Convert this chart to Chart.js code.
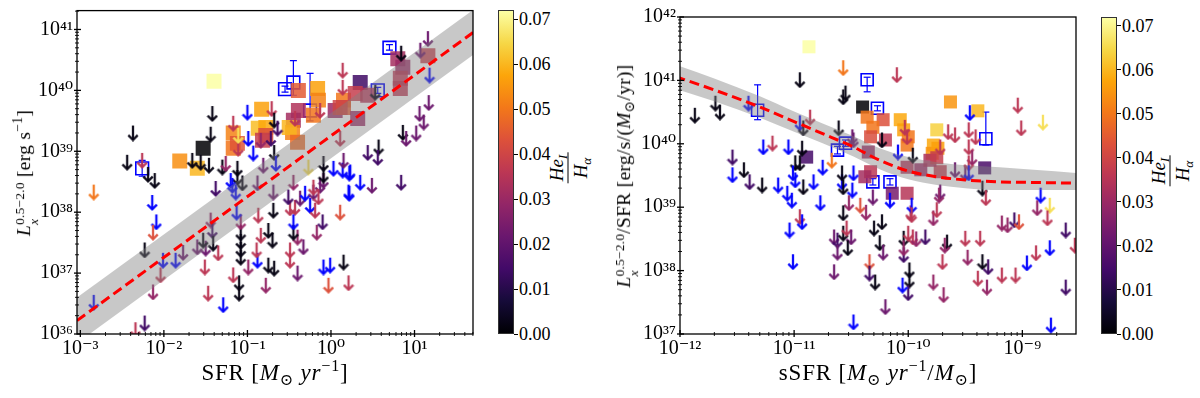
<!DOCTYPE html>
<html>
<head>
<meta charset="utf-8">
<title>Lx vs SFR and sSFR</title>
<script src="https://cdn.jsdelivr.net/npm/chart.js@4.4.1/dist/chart.umd.min.js"></script>
<style>
  html, body { margin: 0; padding: 0; background: #fff; }
  #fig { position: relative; width: 1200px; height: 398px; overflow: hidden; background: #fff; }
  #fig canvas { position: absolute; top: 0; }
  .t { position: absolute; font-family: "Liberation Serif", "DejaVu Serif", serif; color: #000;
       white-space: nowrap; line-height: 1; transform: translate(-50%, -50%); font-size: 22px; }
  .xt { font-size: 23px; letter-spacing: 0.8px; }
  .yt { font-size: 19.5px; letter-spacing: 0.3px; }
  .rot { transform: translate(-50%, -50%) rotate(-90deg); }
  .t sub, .t sup { font-size: 0.7em; line-height: 0; }
  .st { display: inline-flex; flex-direction: column; align-items: flex-start;
        font-size: 0.68em; line-height: 1.05; vertical-align: 0.42em; }
  .cbar { position: absolute; width: 16px; box-sizing: border-box; border: 1px solid #333; }
  .ctk { position: absolute; width: 4px; height: 1px; background: #000; }
  .clab { position: absolute; font-family: "Liberation Serif", "DejaVu Serif", serif; font-size: 18px;
          line-height: 1; transform: translateY(-50%); color: #000; }
  .fr { display: inline-flex; flex-direction: column; align-items: center; font-size: 19px; }
  .fr .nu { border-bottom: 1px solid #000; padding: 0 2px 2px; }
  .fr .de { padding-top: 2px; }
</style>
</head>
<body>
<div id="fig">
  <canvas id="left" width="490" height="398" style="left:0px"></canvas>
  <canvas id="right" width="490" height="398" style="left:600px"></canvas>

  <div class="t xt" style="left:275px;top:372px">SFR [<i>M</i><sub>⊙</sub> <i>yr</i><sup>−1</sup>]</div>
  <div class="t yt rot" style="left:27px;top:173px"><i>L</i><span class="st"><span>0.5−2.0</span><i>x</i></span> [erg s<sup>−1</sup>]</div>
  <div class="t xt" style="left:878px;top:372px">sSFR [<i>M</i><sub>⊙</sub> <i>yr</i><sup>−1</sup>/<i>M</i><sub>⊙</sub>]</div>
  <div class="t yt rot" style="left:627px;top:176px"><i>L</i><span class="st"><span>0.5−2.0</span><i>x</i></span>/SFR [erg/s/(<i>M</i><sub>⊙</sub>/yr)]</div>

  <div class="t rot" style="left:567px;top:168px"><span class="fr"><span class="nu"><i>He</i><sub><i>I</i></sub></span><span class="de"><i>H</i><sub><i>α</i></sub></span></span></div>
  <div class="t rot" style="left:1169px;top:171px"><span class="fr"><span class="nu"><i>He</i><sub><i>I</i></sub></span><span class="de"><i>H</i><sub><i>α</i></sub></span></span></div>
</div>
<script>
// values, in dex (log10) since both panels are log-log
// ratio = HeI/Halpha colour value, null = no measurement (drawn blue)

// ---- left panel: Lx vs SFR ----
const leftLimSFR = [-2.37,-2.44,-2.84,-2.14,-2.26,-2.19,-2.11,-1.66,-1.56,-1.46,-1.30,-1.42,-1.44,-1.38,-1.26,-1.00,-0.71,-0.68,-0.64,-1.17,
  -1.11,-1.11,-0.84,-0.72,-0.99,-0.93,-0.68,-0.81,-0.66,-1.12,-1.12,-1.18,-1.06,-0.88,-0.69,-0.43,-0.13,0.14,0.14,0.53,
  0.84,1.16,1.07,1.18,1.17,1.06,1.11,0.86,0.90,1.02,0.57,0.56,0.44,0.22,0.35,0.49,0.84,0.03,0.14,0.23,
  -2.09,-2.13,-2.23,-2.01,-1.86,-2.04,-1.77,-2.13,-2.84,-2.23,-2.34,-1.60,-1.50,-1.53,-1.44,-1.42,-1.41,-1.35,-1.51,-1.47,
  -1.29,-1.17,-1.08,-1.08,-1.08,-1.08,-1.10,-1.10,-0.99,-0.88,-0.89,-0.84,-0.87,-1.08,-1.13,-0.69,-0.75,-0.70,-0.75,-0.68,
  -0.78,-0.49,-0.43,-0.49,-0.49,-0.40,-0.33,-0.45,-0.45,-0.40,-0.17,-0.37,-0.51,-0.31,-0.25,-0.19,-0.10,0.11,0.22,-0.09,
  -0.01,0.15,-0.03,0.21,-0.45,-0.13,-0.21,-0.09,-0.09,0.15,-0.27,-0.21,-0.15,-0.09,0.11,-1.14,0.21,-1.20];
const leftLimLx = [39.30,38.82,38.33,38.16,38.85,38.62,38.52,38.85,38.82,38.77,38.74,39.62,39.28,38.39,38.80,39.64,39.70,39.51,39.38,39.46,
  39.05,39.26,39.18,39.21,39.21,38.97,38.98,38.77,38.80,38.72,38.57,38.44,38.48,38.48,38.33,39.54,39.67,40.33,40.05,39.97,
  40.61,40.85,40.66,40.25,39.80,39.62,39.48,39.31,39.21,39.30,39.07,38.90,38.98,38.64,38.49,38.44,38.49,38.72,38.69,38.66,
  37.84,37.67,37.38,37.21,37.21,36.97,37.34,36.69,36.52,36.18,36.07,37.43,37.41,37.54,37.87,37.70,37.49,37.33,37.10,36.67,
  36.48,36.97,37.66,37.52,37.39,37.26,36.84,36.67,37.10,37.21,37.38,37.62,37.95,37.84,38.00,38.03,37.70,37.54,37.13,37.08,
  36.80,38.07,38.08,37.38,37.21,37.59,37.43,37.67,37.84,37.00,37.67,38.23,38.25,38.31,38.11,38.03,37.84,38.00,38.31,37.10,
  37.13,37.18,36.80,36.84,38.49,38.44,38.33,38.52,38.80,38.85,38.74,38.41,38.25,38.61,39.21,38.33,38.33,38.52];
const leftLimRatio = [0.002,0.002,0.050,null,0.036,0.002,0.002,0.002,0.002,0.002,0.002,0.002,0.002,0.014,0.029,null,0.036,0.002,0.014,0.036,
  0.036,0.066,0.029,0.014,null,null,0.002,0.022,null,0.002,0.002,null,0.002,0.022,0.022,0.036,0.036,0.036,0.036,0.002,
  0.002,0.022,0.022,null,0.022,0.022,0.022,0.002,0.022,0.022,0.002,0.014,0.014,null,null,0.022,0.014,null,null,null,
  null,0.043,0.002,null,null,0.036,0.022,0.029,null,0.014,0.036,0.022,0.022,0.002,0.029,0.014,0.002,0.036,0.036,0.036,
  null,0.036,0.002,0.002,0.002,0.002,0.002,0.002,0.029,null,0.036,0.036,0.036,0.029,null,0.002,0.002,0.002,0.002,0.002,
  0.029,0.036,0.036,0.036,0.036,0.029,0.022,0.002,null,0.022,0.029,0.022,0.014,null,null,0.036,0.014,0.043,null,null,
  null,0.002,0.043,0.036,0.029,0.022,0.022,0.022,0.002,0.022,0.066,0.036,0.036,0.002,0.036,null,null,null];

const leftSqSFR = [-1.40,-1.81,-1.60,-1.53,-0.83,-1.17,-1.17,-1.12,-0.87,-0.78,-0.78,-0.82,-0.39,-0.16,-0.15,-0.21,-0.39,
  -0.45,-0.46,-0.50,-0.40,0.05,0.15,0.15,0.35,0.29,0.44,0.32,0.11,0.80,0.86,0.83,0.83,1.16];
const leftSqLx = [40.15,38.84,38.72,39.05,39.69,39.30,39.05,39.13,39.38,39.39,39.26,39.18,40.00,40.03,39.84,39.59,39.67,
  39.51,39.31,39.39,39.15,39.67,39.84,39.72,40.13,39.95,39.92,39.54,39.72,40.52,40.38,40.20,40.03,40.57];
const leftSqRatio = [0.072,0.054,0.060,0.000,0.057,0.052,0.050,0.044,0.061,0.058,0.043,0.038,0.045,0.057,0.052,0.050,0.034,
  0.032,0.052,0.060,0.048,0.030,0.050,0.045,0.014,0.038,0.035,0.030,0.040,0.032,0.030,0.036,0.036,0.038];

const leftOpenSFR = [-2.26,-0.55,-0.45,-0.25,0.56,0.70];
const leftOpenLx = [38.72,40.02,40.13,39.67,40.00,40.70];
const leftOpenLo = [38.59,39.97,39.92,39.50,39.95,40.66];
const leftOpenHi = [38.85,40.07,40.49,40.28,40.05,40.75];

const leftFitSFR = [-3.04, 1.70];
const leftFitLx = [36.22, 40.95];
const leftBandHi = [36.60, 41.32];
const leftBandLo = [35.85, 40.58];

// ---- right panel: Lx/SFR vs sSFR ----
const rightLimSSFR = [-11.87,-11.69,-11.65,-11.40,-11.54,-11.54,-11.44,-11.39,-11.28,-11.27,-11.19,-11.05,-10.95,-10.92,-10.86,-10.95,-10.93,-10.99,-10.95,-11.14,
  -11.06,-10.99,-10.92,-10.83,-10.75,-10.57,-10.57,-10.55,-10.61,-10.67,-10.58,-10.58,-10.57,-10.48,-10.49,-10.48,-10.10,-10.23,-10.09,-9.65,
  -9.59,-9.47,-9.47,-9.41,-9.44,-9.46,-9.96,-10.01,-10.03,-10.49,-10.77,-9.72,-9.59,-9.50,-9.72,-11.01,-11.02,-9.04,-9.01,-8.82,
  -9.47,-9.47,-9.35,-9.32,-8.84,-8.76,-8.87,-8.78,-8.62,-9.98,-9.78,-9.75,-9.50,-9.37,-9.18,-9.13,-9.07,-9.03,-9.66,-9.68,
  -9.85,-9.96,-10.04,-10.04,-10.04,-9.48,-9.35,-9.30,-9.70,-8.96,-8.88,-8.76,-9.18,-9.06,-9.39,-9.31,-9.78,-8.62,-9.69,-9.99,
  -9.99,-10.00,-10.05,-8.75,-8.54,-11.04,-10.95,-10.93,-11.01,-10.52,-10.31,-10.42,-10.37,-10.57,-10.65,-10.62,-10.62,-10.57,-10.54,-10.50,
  -10.53,-10.65,-10.30,-10.23,-10.25,-10.22,-10.34,-10.34,-10.29,-10.20,-10.48,-10.16,-9.97,-9.97,-10.00,-9.93,-9.73];
const rightLimL = [40.45,40.64,40.50,40.64,39.51,39.79,39.59,39.40,39.35,39.95,40.01,39.95,40.33,40.25,40.42,41.01,39.93,39.70,39.70,39.35,
  39.22,39.43,39.32,39.40,39.63,41.20,40.74,40.80,40.25,39.74,39.40,39.54,39.32,39.54,39.27,40.06,41.09,40.06,39.87,40.19,
  40.14,40.22,39.95,40.11,39.78,40.49,39.82,40.11,40.26,40.11,39.07,39.24,39.59,39.54,39.95,39.54,39.11,40.61,40.25,40.34,
  39.70,39.54,39.30,39.15,39.19,39.03,38.99,38.83,38.64,38.91,38.83,38.96,38.51,38.51,38.75,38.72,38.80,38.77,38.45,38.40,
  38.53,38.53,38.51,38.25,38.36,38.21,38.14,38.06,38.14,38.12,38.28,38.36,37.93,37.93,37.88,37.74,37.82,37.74,37.62,38.01,
  37.85,37.65,37.77,37.14,38.40,38.64,38.85,38.77,38.14,39.07,39.16,39.03,38.92,38.91,38.53,38.48,38.29,38.59,38.67,38.53,
  38.36,37.98,38.67,38.77,38.44,38.29,38.14,37.96,37.82,37.43,37.19,39.11,39.03,38.88,38.59,38.50,39.19];
const rightLimRatio = [0.002,0.002,0.002,null,null,0.014,0.002,0.014,0.002,null,0.036,null,null,0.002,0.036,0.002,0.002,0.002,0.002,null,
  null,null,0.002,null,null,0.050,0.002,0.002,0.002,0.050,null,0.002,0.002,null,null,0.022,0.036,0.002,null,0.036,
  0.036,0.036,0.036,0.036,0.029,null,0.002,0.036,0.036,0.022,null,0.022,0.022,0.022,0.036,null,null,0.036,0.036,0.066,
  0.036,null,0.002,0.036,null,0.066,0.029,0.036,0.014,0.036,0.029,0.036,0.036,0.036,0.029,0.029,0.014,0.043,0.002,0.029,
  0.014,0.036,0.002,0.014,0.029,0.029,0.002,0.014,0.036,null,0.036,null,0.036,0.036,0.036,0.029,0.029,0.014,0.029,0.002,
  0.002,0.014,null,null,0.036,null,0.036,null,null,0.029,0.022,0.043,0.029,0.002,0.022,0.014,0.022,0.002,0.036,0.022,
  0.002,0.022,0.002,0.002,0.002,0.022,0.043,0.014,0.002,0.022,null,null,null,0.036,0.036,0.029,0.029];

const rightSqSSFR = [-10.87,-10.40,-10.89,-10.36,-10.22,-10.31,-10.33,-10.20,-10.07,-10.04,-10.00,-10.01,-9.63,-9.39,-9.75,
  -9.78,-9.79,-9.74,-10.35,-10.33,-10.38,-10.14,-10.01,-10.01,-9.89,-9.72,-9.81,-9.75,-9.33];
const rightSqL = [41.53,40.58,39.79,40.42,40.38,40.26,40.11,40.06,40.38,40.22,40.11,39.98,40.66,40.52,40.22,
  39.98,39.85,39.93,39.87,39.56,39.48,39.22,39.22,39.63,39.59,39.56,39.74,39.78,39.62];
const rightSqRatio = [0.072,0.000,0.015,0.050,0.043,0.050,0.042,0.036,0.058,0.057,0.050,0.050,0.055,0.060,0.064,
  0.058,0.055,0.057,0.030,0.036,0.032,0.024,0.035,0.034,0.030,0.037,0.033,0.038,0.016];

const rightOpenSSFR = [-11.32,-10.36,-10.27,-10.62,-10.55,-10.31,-10.16,-9.32];
const rightOpenL = [40.53,41.01,40.56,39.90,40.01,39.40,39.40,40.08];
const rightOpenLo = [40.38,40.82,40.52,39.84,39.96,39.35,39.35,39.98];
const rightOpenHi = [40.93,41.05,40.60,39.96,40.06,39.45,39.45,40.50];

const rightFitSSFR = [-12.04,-11.7,-11.3,-11.0,-10.75,-10.48,-10.25,-10.0,-9.75,-9.5,-9.2,-8.9,-8.53];
const rightFitL = [41.06,40.85,40.58,40.35,40.16,39.95,39.74,39.57,39.48,39.43,39.40,39.39,39.38];
const rightBandHi = [41.25,41.03,40.75,40.51,40.32,40.12,39.93,39.79,39.71,39.66,39.63,39.59,39.54];
const rightBandLo = [40.87,40.67,40.41,40.19,40.01,39.80,39.60,39.44,39.35,39.30,39.27,39.27,39.27];

// colour bar
const RATIO_MAX = 0.072;
const cbarTicks = [0.00, 0.01, 0.02, 0.03, 0.04, 0.05, 0.06, 0.07];

const FONT = '"Liberation Serif", "DejaVu Serif", serif';
const INFERNO = ['#000004', '#160b39', '#420a68', '#6a176e', '#932667', '#bc3754',
                 '#dd513a', '#f37819', '#fca50a', '#f6d746', '#fcffa4'];
const INF_RGB = INFERNO.map(h => [1, 3, 5].map(k => parseInt(h.slice(k, k + 2), 16)));
const BAND = 'rgba(128,128,128,0.43)';

function colour(r, a) {
    if (r === null) return `rgba(0,0,255,${a})`;
    const t = Math.max(0, Math.min(1, r / RATIO_MAX)) * 10;
    const i = Math.min(9, Math.floor(t));
    const f = t - i;
    const c = INF_RGB[i].map((v, k) => Math.round(v + (INF_RGB[i + 1][k] - v) * f));
    return `rgba(${c[0]},${c[1]},${c[2]},${a})`;
}

// upper-limit marker: downward arrow drawn once per colour
const arrowCache = {};
function arrow(col) {
    if (arrowCache[col]) return arrowCache[col];
    const c = document.createElement('canvas');
    c.width = 12;
    c.height = 17;
    const g = c.getContext('2d');
    g.strokeStyle = col;
    g.lineWidth = 2.3;
    g.beginPath();
    g.moveTo(6, 1);
    g.lineTo(6, 15.3);
    g.stroke();
    g.beginPath();
    g.moveTo(1.3, 10.6);
    g.lineTo(6, 15.3);
    g.lineTo(10.7, 10.6);
    g.stroke();
    arrowCache[col] = c;
    return c;
}

function pts(xs, ys) {
    return xs.map((v, i) => ({ x: Math.pow(10, v), y: Math.pow(10, ys[i]) }));
}
function errPts(xs, lo, hi) {
    const out = [];
    xs.forEach((v, i) => {
        const x = Math.pow(10, v);
        out.push({ x, y: Math.pow(10, lo[i]) }, { x, y: Math.pow(10, hi[i]) }, { x, y: null });
    });
    return out;
}

const SUP = { '-': '⁻', '0': '⁰', '1': '¹', '2': '²', '3': '³', '4': '⁴', '5': '⁵', '6': '⁶', '7': '⁷', '8': '⁸', '9': '⁹' };
function powLabel(v) {
    const e = Math.log10(v);
    const r = Math.round(e);
    if (Math.abs(e - r) > 1e-6) return '';
    return '10' + String(r).split('').map(ch => SUP[ch]).join('');
}

// frame + in/out log ticks on the left and bottom spines
const frameTicks = {
    id: 'frameTicks',
    afterDatasetsDraw(chart) {
        const { ctx, chartArea: a, scales } = chart;
        ctx.save();
        ctx.strokeStyle = '#000';
        ctx.lineWidth = 1.3;
        ctx.strokeRect(a.left, a.top, a.right - a.left, a.bottom - a.top);
        const marks = (scale, horiz) => {
            const lo = Math.floor(Math.log10(scale.min)), hi = Math.ceil(Math.log10(scale.max));
            for (let e = lo; e <= hi; e++) {
                for (let k = 1; k < 10; k++) {
                    const v = k * Math.pow(10, e);
                    if (v < scale.min * 0.9999 || v > scale.max * 1.0001) continue;
                    const p = scale.getPixelForValue(v);
                    const out = k === 1 ? 3 : 2, inn = k === 1 ? 4 : 2;
                    ctx.lineWidth = k === 1 ? 1.3 : 0.9;
                    ctx.beginPath();
                    if (horiz) { ctx.moveTo(p, a.bottom + out); ctx.lineTo(p, a.bottom - inn); }
                    else { ctx.moveTo(a.left - out, p); ctx.lineTo(a.left + inn, p); }
                    ctx.stroke();
                }
            }
        };
        marks(scales.x, true);
        marks(scales.y, false);
        ctx.restore();
    }
};

function logAxis(min, max, horiz, size) {
    return {
        type: 'logarithmic',
        min, max,
        position: horiz ? 'bottom' : 'left',
        grid: { display: false, drawTicks: false },
        border: { display: false },
        ticks: {
            autoSkip: false, maxRotation: 0, minRotation: 0,
            padding: horiz ? 3 : 4,
            color: '#000',
            font: { family: FONT, size: 20 },
            callback: v => powLabel(v)
        },
        afterFit: s => {
            if (horiz) s.height = size; else s.width = size;
            s.paddingLeft = 0; s.paddingRight = 0; s.paddingTop = 0; s.paddingBottom = 0;
        }
    };
}

function panel(id, p) {
    const smooth = p.smooth ? { cubicInterpolationMode: 'monotone' } : { tension: 0 };
    const datasets = [
        { type: 'line', data: pts(p.fitX, p.fitY), borderColor: '#ff0000', borderWidth: 3, borderDash: [10, 5],
          pointRadius: 0, fill: false, order: 0, clip: 0, ...smooth },
        { type: 'line', data: pts(p.fitX, p.bandHi), borderWidth: 0, borderColor: 'rgba(0,0,0,0)',
          backgroundColor: BAND, pointRadius: 0, fill: '+1', order: 1, clip: 0, ...smooth },
        { type: 'line', data: pts(p.fitX, p.bandLo), borderWidth: 0, borderColor: 'rgba(0,0,0,0)',
          pointRadius: 0, fill: false, order: 1, clip: 0, ...smooth },
        { type: 'scatter', data: pts(p.limX, p.limY), pointStyle: p.limR.map(r => arrow(colour(r, 0.95))),
          pointRadius: 6, order: 2, clip: 0 },
        { type: 'scatter', data: pts(p.sqX, p.sqY), pointStyle: 'rect', pointRadius: p.sqSize,
          pointBackgroundColor: p.sqR.map(r => colour(r, 0.85)), pointBorderWidth: 0, order: 3, clip: 0 },
        { type: 'scatter', data: pts(p.openX, p.openY), pointStyle: 'rect', pointRadius: p.openSize,
          pointBackgroundColor: 'rgba(0,0,0,0)', pointBorderColor: '#0000ff', pointBorderWidth: 1.6, order: 4, clip: 0 },
        { type: 'line', data: errPts(p.openX, p.openLo, p.openHi), borderColor: '#0000ff', borderWidth: 1.2,
          pointStyle: 'line', pointRadius: 3.5, pointBorderColor: '#0000ff', pointBorderWidth: 1.2,
          spanGaps: false, fill: false, order: 5, clip: 0 }
    ];
    return new Chart(document.getElementById(id), {
        type: 'scatter',
        data: { datasets },
        options: {
            responsive: false,
            animation: false,
            devicePixelRatio: 1,
            layout: { padding: { left: 0, right: p.padRight, top: p.padTop, bottom: 0 } },
            plugins: { legend: { display: false }, tooltip: { enabled: false } },
            scales: {
                x: logAxis(p.xMin, p.xMax, true, 64),
                y: logAxis(p.yMin, p.yMax, false, p.axisW)
            }
        },
        plugins: [frameTicks]
    });
}

function colorbar(left, top, height) {
    const fig = document.getElementById('fig');
    const bar = document.createElement('div');
    bar.className = 'cbar';
    bar.style.left = left + 'px';
    bar.style.top = top + 'px';
    bar.style.height = height + 'px';
    bar.style.background = 'linear-gradient(to top,' + INFERNO.map((c, i) => c + ' ' + (i * 10) + '%').join(',') + ')';
    fig.appendChild(bar);
    cbarTicks.forEach(v => {
        const y = top + height - v / RATIO_MAX * height;
        const tk = document.createElement('div');
        tk.className = 'ctk';
        tk.style.left = (left + 16) + 'px';
        tk.style.top = (y - 0.5) + 'px';
        fig.appendChild(tk);
        const lb = document.createElement('div');
        lb.className = 'clab';
        lb.style.left = (left + 21) + 'px';
        lb.style.top = y + 'px';
        lb.textContent = v.toFixed(2);
        fig.appendChild(lb);
    });
}

Chart.defaults.font.family = FONT;

panel('left', {
    xMin: Math.pow(10, -3.04), xMax: Math.pow(10, 1.70), yMin: 1e36, yMax: Math.pow(10, 41.31),
    axisW: 77, padRight: 17, padTop: 10, smooth: false,
    limX: leftLimSFR, limY: leftLimLx, limR: leftLimRatio,
    sqX: leftSqSFR, sqY: leftSqLx, sqR: leftSqRatio, sqSize: 10.6,
    openX: leftOpenSFR, openY: leftOpenLx, openLo: leftOpenLo, openHi: leftOpenHi, openSize: 9,
    fitX: leftFitSFR, fitY: leftFitLx, bandHi: leftBandHi, bandLo: leftBandLo
});

panel('right', {
    xMin: 1e-12, xMax: Math.pow(10, -8.53), yMin: 1e37, yMax: 1e42,
    axisW: 80, padRight: 14, padTop: 17, smooth: true,
    limX: rightLimSSFR, limY: rightLimL, limR: rightLimRatio,
    sqX: rightSqSSFR, sqY: rightSqL, sqR: rightSqRatio, sqSize: 9.2,
    openX: rightOpenSSFR, openY: rightOpenL, openLo: rightOpenLo, openHi: rightOpenHi, openSize: 8.5,
    fitX: rightFitSSFR, fitY: rightFitL, bandHi: rightBandHi, bandLo: rightBandLo
});

colorbar(498, 10, 324);
colorbar(1101, 17, 317);
</script>
</body>
</html>
